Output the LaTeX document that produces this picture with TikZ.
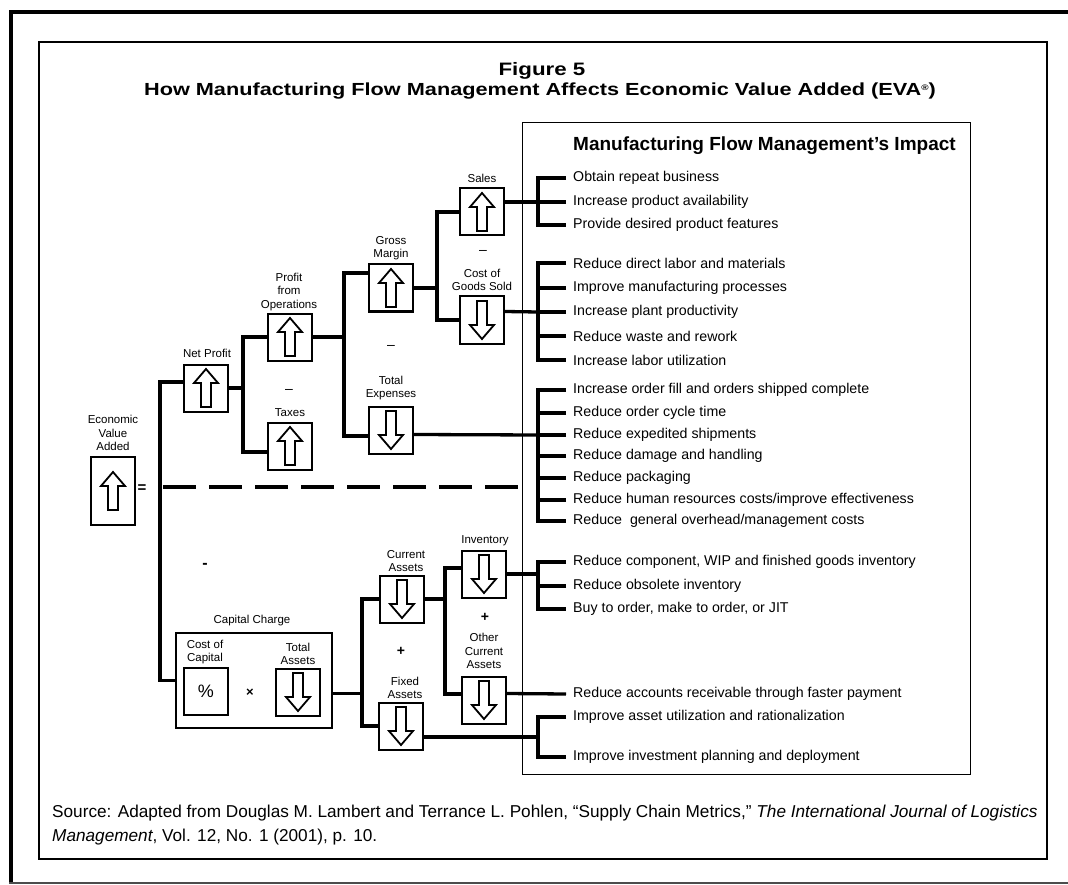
\documentclass[tikz,border=0pt]{standalone}
\usepackage{fontspec}
\setmainfont{Liberation Sans}
\newfontfamily\widefont{Liberation Sans}[FakeStretch=1.24]
\usetikzlibrary{calc}
\begin{document}
\begin{tikzpicture}[x=1pt,y=-1pt,
  conn/.style={line width=3.3pt},
  arrline/.style={line width=1.8pt},
  abox/.style={draw,line width=2pt,minimum width=44pt,minimum height=47pt,inner sep=0pt},
  uparrow/.style={abox,path picture={\draw[arrline,shift={(path picture bounding box.center)},yscale=#1]
     (0pt,19pt)--(12pt,5pt)--(5pt,5pt)--(5pt,-19pt)--(-5pt,-19pt)--(-5pt,5pt)--(-12pt,5pt)--cycle;}},
  uparrow/.default=1,
  downarrow/.style={abox,path picture={\draw[arrline,shift={(path picture bounding box.center)}]
     (0pt,-19pt)--(12pt,-5pt)--(5pt,-5pt)--(5pt,19pt)--(-5pt,19pt)--(-5pt,-5pt)--(-12pt,-5pt)--cycle;}},
  lbl/.style={align=center,inner sep=0pt,font=\fontsize{11.5}{13.5}\selectfont},
  item/.style={anchor=west,inner xsep=7pt,inner ysep=0pt,font=\fontsize{14.2}{16}\selectfont},
  sign/.style={inner sep=0pt,font=\fontsize{14}{14}\selectfont}
]
\useasboundingbox (0,0) rectangle (1068,885);
% frames
\draw[line width=4.5pt] (11,883) -- (11,12) -- (1068,12);
\draw[line width=2pt,black!70] (9,883) -- (1068,883);
\node[draw,line width=1.8pt,anchor=north west,minimum width=1008pt,minimum height=817pt,inner sep=0pt] (frame) at (38,41) {};
% titles
\node[font=\widefont\bfseries\fontsize{18}{20}\selectfont] (fig) at (542,71) {Figure 5};
\node[font=\widefont\bfseries\fontsize{17.5}{20}\selectfont] (sub) at (540,91) {How Manufacturing Flow Management Affects Economic Value Added (EVA{\fontsize{8}{8}\selectfont\raisebox{5pt}{®}})};
% impact box
\node[draw,line width=1.4pt,anchor=north west,minimum width=448pt,minimum height=652pt,inner sep=0pt] (impact) at (522,122) {};
\node[anchor=west,inner sep=0pt,font=\bfseries\fontsize{19}{20}\selectfont] (imptitle) at (573,146) {Manufacturing Flow Management's Impact};
% tree boxes
\node[uparrow=1.3,minimum height=68pt] (eva) at (113,491) {};
\node[lbl] (evaL) at (113,433) {Economic\\Value\\Added};
\node[sign,font=\bfseries\fontsize{15}{15}\selectfont] (eq) at (142,489) {=};
\node[uparrow] (np) at (206,388) {};
\node[lbl] (npL) at (207,353) {Net Profit};
\node[uparrow] (pfo) at (290,337) {};
\node[lbl] (pfoL) at (289,292) {Profit\\from\\Operations};
\node[uparrow] (tax) at (290,446) {};
\node[lbl] (taxL) at (290,413) {Taxes};
\node[sign] (m1) at (289,391) {–};
\node[uparrow] (gm) at (391,288) {};
\node[lbl] (gmL) at (391,248) {Gross\\Margin};
\node[downarrow] (te) at (391,430) {};
\node[lbl] (teL) at (391,388) {Total\\Expenses};
\node[sign] (m2) at (391,347) {–};
\node[uparrow] (sales) at (482,212) {};
\node[lbl] (salesL) at (482,178) {Sales};
\node[downarrow] (cogs) at (482,320) {};
\node[lbl] (cogsL) at (482,280) {Cost of\\Goods Sold};
\node[sign] (m3) at (483,252) {–};
% dashed separator
\coordinate (dl) at (163,487);
\coordinate (dr) at (520,487);
\draw[line width=4.5pt,dash pattern=on 33pt off 13pt] (dl) -- (dr);
% capital side
\node[sign,font=\bfseries\fontsize{16}{16}\selectfont] (m4) at (205,566) {-};
\node[draw,line width=2pt,anchor=north west,minimum width=156pt,minimum height=95pt,inner sep=0pt] (cc) at (175,632) {};
\node[lbl] (ccL) at (252,621) {Capital Charge};
\node[abox,font=\fontsize{18}{18}\selectfont] (pct) at (206,691) {\%};
\node[lbl] (pctL) at (205,652) {Cost of\\Capital};
\node[sign,font=\bfseries\fontsize{13}{13}\selectfont] (times) at (250,693) {×};
\node[downarrow] (ta) at (298,692) {};
\node[lbl] (taL) at (298,654) {Total\\Assets};
\node[downarrow] (ca) at (402,599) {};
\node[lbl] (caL) at (406,561) {Current\\Assets};
\node[sign,font=\bfseries\fontsize{14}{14}\selectfont] (p1) at (401,651) {+};
\node[downarrow] (fa) at (401,726) {};
\node[lbl] (faL) at (405,688) {Fixed\\Assets};
\node[downarrow] (inv) at (484,574) {};
\node[lbl] (invL) at (485,541) {Inventory};
\node[sign,font=\bfseries\fontsize{14}{14}\selectfont] (p2) at (485,617) {+};
\node[downarrow] (oca) at (484,700) {};
\node[lbl] (ocaL) at (484,651) {Other\\Current\\Assets};
% tree connectors
\coordinate (v0) at (160,0);
\coordinate (v1) at (243,0);
\coordinate (v2) at (344,0);
\coordinate (v3) at (437,0);
\coordinate (v4) at (362,0);
\coordinate (v5) at (445,0);
\coordinate (ccout) at ([yshift=-13pt]cc.east);
\draw[conn] ([yshift=6pt]np.west) -| (v0 |- cc.west) -- (cc.west);
\draw[conn] (np.east) -- (np.east -| v1);
\draw[conn] (pfo.west) -| (v1 |- np.east) |- ([yshift=-6pt]tax.west);
\draw[conn] (pfo.east) -- (pfo.east -| v2);
\draw[conn] ([yshift=15pt]gm.west) -| (v2 |- pfo.east) |- ([yshift=-6pt]te.west);
\draw[conn] (gm.east) -- (gm.east -| v3);
\draw[conn] (sales.west) -| (v3 |- gm.east) |- (cogs.west);
\draw[conn] (ccout) -- (ccout -| v4);
\draw[conn] (ca.west) -| (v4 |- ccout) |- (fa.west);
\draw[conn] (ca.east) -- (ca.east -| v5);
\draw[conn] ([yshift=6pt]inv.west) -| (v5 |- ca.east) |- ([yshift=6pt]oca.west);
% impact items
\coordinate (bx) at (538,0);
\node[item] (s1) at (566,178) {Obtain repeat business};
\node[item] (s2) at (566,202) {Increase product availability};
\node[item] (s3) at (566,225) {Provide desired product features};
\node[item] (c1) at (566,263) {Reduce direct labor and materials};
\node[item] (c2) at (566,288) {Improve manufacturing processes};
\node[item] (c3) at (566,312) {Increase plant productivity};
\node[item] (c4) at (566,336) {Reduce waste and rework};
\node[item] (c5) at (566,360) {Increase labor utilization};
\node[item] (e1) at (566,390) {Increase order fill and orders shipped complete};
\node[item] (e2) at (566,413) {Reduce order cycle time};
\node[item] (e3) at (566,435) {Reduce expedited shipments};
\node[item] (e4) at (566,456) {Reduce damage and handling};
\node[item] (e5) at (566,478) {Reduce packaging};
\node[item] (e6) at (566,500) {Reduce human resources costs/improve effectiveness};
\node[item] (e7) at (566,521) {Reduce\ \ general overhead/management costs};
\node[item] (i1) at (566,562) {Reduce component, WIP and finished goods inventory};
\node[item] (i2) at (566,586) {Reduce obsolete inventory};
\node[item] (i3) at (566,609) {Buy to order, make to order, or JIT};
\node[item] (r1) at (566,694) {Reduce accounts receivable through faster payment};
\node[item] (f1) at (566,717) {Improve asset utilization and rationalization};
\node[item] (f2) at (566,757) {Improve investment planning and deployment};
% brackets
\draw[conn] (s1.west) -| (bx |- s3.west) -- (s3.west);
\draw[conn] (s2.west) -- (s2.west -| bx);
\draw[conn] ([yshift=10pt]sales.east) -- (s2.west -| bx);
\draw[conn] (c1.west) -| (bx |- c5.west) -- (c5.west);
\foreach \n in {c2,c3,c4} \draw[conn] (\n.west) -- (\n.west -| bx);
\draw[conn] ([yshift=8.5pt]cogs.east) -- (c3.west -| bx);
\draw[conn] (e1.west) -| (bx |- e7.west) -- (e7.west);
\foreach \n in {e2,e3,e4,e5,e6} \draw[conn] (\n.west) -- (\n.west -| bx);
\draw[conn] ([yshift=-4.5pt]te.east) -- (e3.west -| bx);
\draw[conn] (i1.west) -| (bx |- i3.west) -- (i3.west);
\draw[conn] (i2.west) -- (i2.west -| bx);
\draw[conn] (inv.east) -- (inv.east -| bx);
\draw[conn] ([yshift=6.5pt]oca.east) -- (r1.west);
\draw[conn] (f1.west) -| (bx |- f2.west) -- (f2.west);
\draw[conn] ([yshift=-11pt]fa.east) -- ([yshift=-11pt]fa.east -| bx);
% source
\node[anchor=west,align=left,inner sep=0pt,font=\fontsize{17.2}{24}\selectfont] (src) at (52,825) {Source: Adapted from Douglas M. Lambert and Terrance L. Pohlen, “Supply Chain Metrics,” \textit{The International Journal of Logistics}\\\textit{Management}, Vol. 12, No. 1 (2001), p. 10.};
\end{tikzpicture}
\end{document}
